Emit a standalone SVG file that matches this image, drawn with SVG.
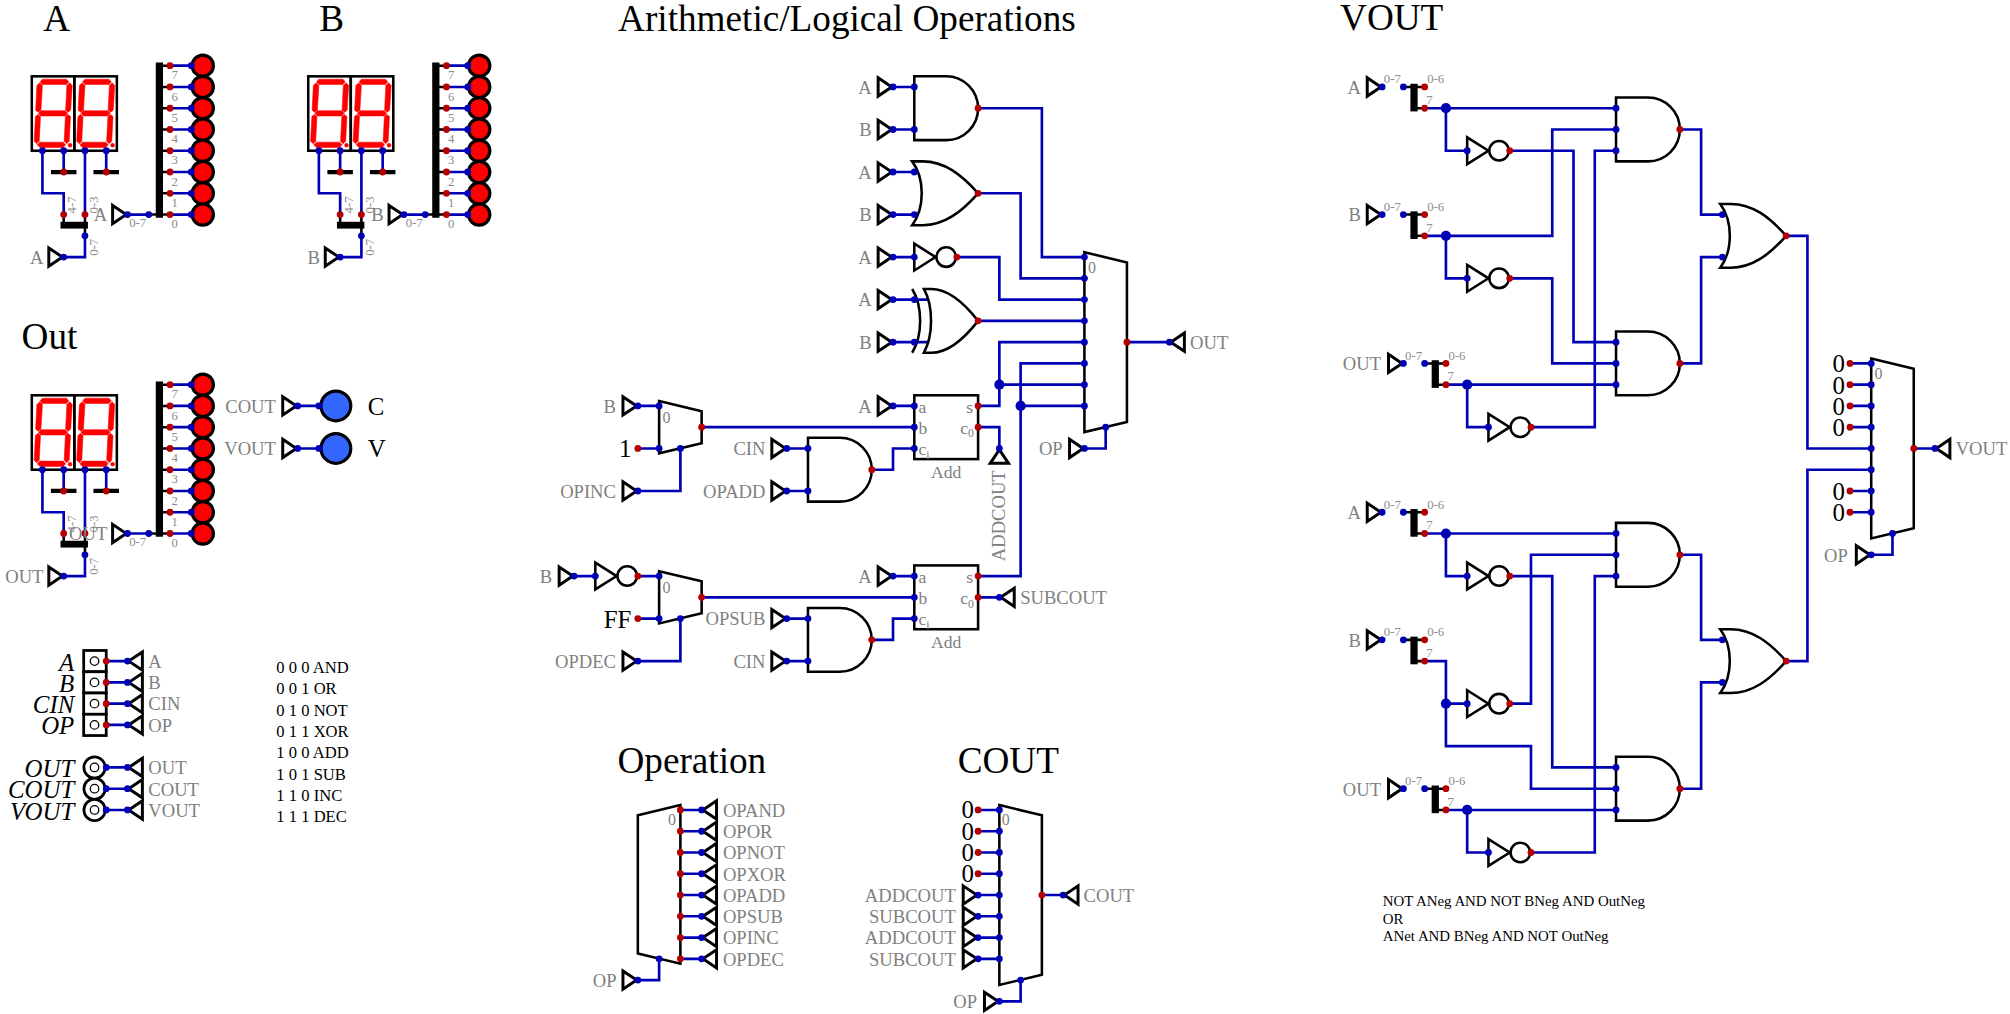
<svg xmlns="http://www.w3.org/2000/svg" xmlns:xlink="http://www.w3.org/1999/xlink" width="2010" height="1014" viewBox="0 0 2010 1014">
<style>
text{font-family:"Liberation Serif","Times New Roman",serif}
.w{fill:none;stroke:#0000b4;stroke-width:1.25}
.o{fill:none;stroke:#000;stroke-width:1.2}
.tr{fill:none;stroke:#000;stroke-width:1.4}
.bar{fill:#000}
.stub{stroke:#000;stroke-width:1.2;fill:none}
.gnd{stroke:#000;stroke-width:2;fill:none}
.led{fill:#ff0000;stroke:#000;stroke-width:1.5}
.ledb{fill:#3366ff;stroke:#000;stroke-width:1.5}
.seg{fill:#ff0000;stroke:#ff0000;stroke-width:.25}
.pin{fill:#fff;stroke:#000;stroke-width:1.3}
.pi{fill:#fff;stroke:#000;stroke-width:.6}
.l{font-size:8.75px;fill:#808080}
.a{font-size:8.3px;fill:#808080}
.e{text-anchor:end}
.m{text-anchor:middle}
.s{font-size:6px;fill:#8c8c8c}
.d{font-size:6px;fill:#8c8c8c;text-anchor:middle}
.z{font-size:7.5px;fill:#808080}
.k{font-size:11.7px;fill:#000}
.i{font-size:11.7px;fill:#000;font-style:italic;text-anchor:end}
.h{font-size:17.5px;fill:#000}
.n{font-size:7.8px;fill:#000}
.f{font-size:7px;fill:#000}
</style>
<defs>
<circle id="b" r="1.6" fill="#0000b4"/>
<circle id="r" r="1.6" fill="#b40000"/>
<g id="inR"><polygon class="tr" points="-7,-4.3 -.6,0 -7,4.3"/><use xlink:href="#b"/></g>
<g id="inL"><polygon class="tr" points="7,-4.3 .6,0 7,4.3"/><use xlink:href="#b"/></g>
<g id="not"><polygon class="o" points="0,-6.3 10,0 0,6.3"/><circle class="o" cx="15" r="4.6"/><use xlink:href="#b"/><use xlink:href="#r" x="20"/></g>
<path id="andS" class="o" d="M0,-15H15A15,15 0 0 1 15,15H0Z"/>
<path id="orS" class="o" d="M-1,-15H4C14,-15 22,-9 30,0C22,9 14,15 4,15H-1C5,7 5,-7 -1,-15Z"/>
<g id="seven">
<rect class="o" width="20" height="35"/>
<polygon class="seg" points="3.9,2.6 5,1.35 16.3,1.35 17.4,2.6 16.3,3.85 5,3.85"/>
<polygon class="seg" points="3.1,17.4 4.3,16.15 15.7,16.15 16.9,17.4 15.7,18.65 4.3,18.65"/>
<polygon class="seg" points="2.6,32.2 3.8,30.95 14.8,30.95 15.9,32.2 14.8,33.45 3.8,33.45"/>
<polygon class="seg" points="3.7,3 5,4.3 4.3,15.9 3,16.9 1.8,15.9 2.4,4.3"/>
<polygon class="seg" points="17.8,3 19,4.3 18.3,15.9 17.1,16.9 15.9,15.9 16.5,4.3"/>
<polygon class="seg" points="2.9,17.9 4.1,18.9 3.5,30.5 2.3,31.7 1.1,30.5 1.7,18.9"/>
<polygon class="seg" points="17,17.9 18.2,18.9 17.6,30.5 16.4,31.7 15.2,30.5 15.8,18.9"/>
<circle class="seg" cx="18" cy="32.4" r=".9"/>
</g>
<g id="bankS">
<use xlink:href="#seven" x="15" y="35"/><use xlink:href="#seven" x="35" y="35"/>
<path class="gnd" d="M24,80H36M44,80H56"/>
<path class="stub" d="M30,100V105M40,100V110M70,100H75M75,30H80M75,40H80M75,50H80M75,60H80M75,70H80M75,80H80M75,90H80M75,100H80"/>
<rect class="bar" x="28.5" y="103.4" width="12.9" height="3.2"/>
<rect class="bar" x="73.3" y="28.5" width="3.4" height="73"/>
<use xlink:href="#b" x="20" y="70"/><use xlink:href="#b" x="30" y="70"/><use xlink:href="#b" x="40" y="70"/><use xlink:href="#b" x="50" y="70"/>
<use xlink:href="#r" x="30" y="80"/><use xlink:href="#r" x="50" y="80"/><use xlink:href="#r" x="30" y="100"/><use xlink:href="#r" x="40" y="100"/><use xlink:href="#b" x="40" y="110"/>
<use xlink:href="#inR" x="30" y="120"/><use xlink:href="#inR" x="60" y="100"/><use xlink:href="#b" x="70" y="100"/>
<circle class="led" cx="95.4" cy="30" r="5"/><circle class="led" cx="95.4" cy="40" r="5"/><circle class="led" cx="95.4" cy="50" r="5"/><circle class="led" cx="95.4" cy="60" r="5"/><circle class="led" cx="95.4" cy="70" r="5"/><circle class="led" cx="95.4" cy="80" r="5"/><circle class="led" cx="95.4" cy="90" r="5"/><circle class="led" cx="95.4" cy="100" r="5"/>
<use xlink:href="#r" x="80" y="30"/><use xlink:href="#r" x="80" y="40"/><use xlink:href="#r" x="80" y="50"/><use xlink:href="#r" x="80" y="60"/><use xlink:href="#r" x="80" y="70"/><use xlink:href="#r" x="80" y="80"/><use xlink:href="#r" x="80" y="90"/><use xlink:href="#r" x="80" y="100"/>
<use xlink:href="#b" x="90" y="30"/><use xlink:href="#b" x="90" y="40"/><use xlink:href="#b" x="90" y="50"/><use xlink:href="#b" x="90" y="60"/><use xlink:href="#b" x="90" y="70"/><use xlink:href="#b" x="90" y="80"/><use xlink:href="#b" x="90" y="90"/><use xlink:href="#b" x="90" y="100"/>
</g>
<path id="bankW" class="w" d="M20,70V90H30V100M40,70V100M40,110V120H30M30,70V80M50,70V80M60,100H70M80,30H90M80,40H90M80,50H90M80,60H90M80,70H90M80,80H90M80,90H90M80,100H90"/>
<g id="splitS"><path class="stub" d="M0,0H10M5,10H10"/><rect class="bar" x="3.3" y="-1.5" width="3.4" height="13"/><use xlink:href="#b"/><use xlink:href="#r" x="10"/><use xlink:href="#r" x="10" y="10"/><use xlink:href="#inR" x="-10"/></g>
</defs>
<g transform="translate(-.1,1.9) scale(2.1265)">
<g id="titles">
<text class="h" x="20.4" y="13.5">A</text>
<text class="h" x="150.2" y="13.5">B</text>
<text class="h" x="10.2" y="163.4">Out</text>
<text class="h" x="290.7" y="13.5">Arithmetic/Logical Operations</text>
<text class="h" x="630.2" y="13.3">VOUT</text>
<text class="h" x="290.4" y="362.8">Operation</text>
<text class="h" x="450.4" y="362.8">COUT</text>
</g>
<g id="connectors">
<use xlink:href="#bankW"/><use xlink:href="#bankW" x="130"/><use xlink:href="#bankW" y="150"/>
<path class="w" d="M140,190H150M140,210H150"/>
<path class="w" d="M50,310H60M50,320H60M50,330H60M50,340H60M50,360H60M50,370H60M50,380H60"/>
<path class="w" d="M420,40H430M420,60H430M460,50H490V120H510M420,80H430M420,100H430M460,90H480V130H510M420,120H430M450,120H470V140H510M420,140H437M420,160H437M460,150H510M460,190H470V160H510M470,180H510M460,200H470V210M460,270H480V170H510M480,190H510M460,280H470M530,160H550M520,200V210H510M420,190H430M330,200H430M410,220H420V210H430M300,190H310M300,210H310M320,210V230H300M370,210H380M370,230H380M270,270H280M300,270H310M300,290H310M320,290V310H300M330,280H430M370,290H380M370,310H380M410,300H420V290H430M420,270H430"/>
<path class="w" d="M320,380H330M320,390H330M320,400H330M320,410H330M320,420H330M320,430H330M320,440H330M320,450H330M310,450V460H300M460,380H470M460,390H470M460,400H470M460,410H470M460,420H470M460,430H470M460,440H470M460,450H470M490,420H500M480,460V470H470"/>
<path class="w" d="M670,50H760M680,50V70H690M710,70H740V160H760M760,60H730V110H670M680,110V130H690M710,130H730V170H760M680,180H760M690,180V200H700M720,200H750V70H760M790,60H800V100H810M790,170H800V120H810M840,110H850V210H880M840,310H850V220H880M870,170H880M870,180H880M870,190H880M870,200H880M870,230H880M870,240H880M900,210H910M890,250V260H880"/>
<path class="w" d="M670,250H760M680,250V270H690M710,270H730V360H760M760,260H720V330H710M670,310H680V350H720V370H760M680,330H690M680,380H760M690,380V400H700M720,400H750V270H760M790,260H800V300H810M790,370H800V320H810"/>
<g fill="#0000b4"><circle cx="470" cy="180" r="2.4"/><circle cx="480" cy="190" r="2.4"/><circle cx="680" cy="50" r="2.4"/><circle cx="680" cy="110" r="2.4"/><circle cx="690" cy="180" r="2.4"/><circle cx="680" cy="250" r="2.4"/><circle cx="680" cy="330" r="2.4"/><circle cx="690" cy="380" r="2.4"/></g>
</g>
<g id="node-display-a"><use xlink:href="#bankS"/>
<text class="l e" x="20.5" y="123.2">A</text><text class="l e" x="50.5" y="103.2">A</text>
<text class="s m" transform="translate(36,95.5) rotate(-90)">4-7</text><text class="s m" transform="translate(46,95.5) rotate(-90)">0-3</text><text class="s m" transform="translate(46,115.4) rotate(-90)">0-7</text><text class="s m" x="64.8" y="105.7">0-7</text>
<text class="d" x="82.2" y="36.4">7</text><text class="d" x="82.2" y="46.4">6</text><text class="d" x="82.2" y="56.4">5</text><text class="d" x="82.2" y="66.4">4</text><text class="d" x="82.2" y="76.4">3</text><text class="d" x="82.2" y="86.4">2</text><text class="d" x="82.2" y="96.4">1</text><text class="d" x="82.2" y="106.4">0</text>
</g>
<g id="node-display-b" transform="translate(130,0)"><use xlink:href="#bankS"/>
<text class="l e" x="20.5" y="123.2">B</text><text class="l e" x="50.5" y="103.2">B</text>
<text class="s m" transform="translate(36,95.5) rotate(-90)">4-7</text><text class="s m" transform="translate(46,95.5) rotate(-90)">0-3</text><text class="s m" transform="translate(46,115.4) rotate(-90)">0-7</text><text class="s m" x="64.8" y="105.7">0-7</text>
<text class="d" x="82.2" y="36.4">7</text><text class="d" x="82.2" y="46.4">6</text><text class="d" x="82.2" y="56.4">5</text><text class="d" x="82.2" y="66.4">4</text><text class="d" x="82.2" y="76.4">3</text><text class="d" x="82.2" y="86.4">2</text><text class="d" x="82.2" y="96.4">1</text><text class="d" x="82.2" y="106.4">0</text>
</g>
<g id="node-display-out" transform="translate(0,150)"><use xlink:href="#bankS"/>
<text class="l e" x="20.5" y="123.2">OUT</text><text class="l e" x="50.5" y="103.2">OUT</text>
<text class="s m" transform="translate(36,95.5) rotate(-90)">4-7</text><text class="s m" transform="translate(46,95.5) rotate(-90)">0-3</text><text class="s m" transform="translate(46,115.4) rotate(-90)">0-7</text><text class="s m" x="64.8" y="105.7">0-7</text>
<text class="d" x="82.2" y="36.4">7</text><text class="d" x="82.2" y="46.4">6</text><text class="d" x="82.2" y="56.4">5</text><text class="d" x="82.2" y="66.4">4</text><text class="d" x="82.2" y="76.4">3</text><text class="d" x="82.2" y="86.4">2</text><text class="d" x="82.2" y="96.4">1</text><text class="d" x="82.2" y="106.4">0</text>
</g>
<g id="node-led-c"><circle class="ledb" cx="158" cy="190" r="7"/><use xlink:href="#inR" x="140" y="190"/><use xlink:href="#b" x="150" y="190"/><text class="l e" x="129.8" y="193.2">COUT</text><text class="k" x="173" y="194.3">C</text></g>
<g id="node-led-v"><circle class="ledb" cx="158" cy="210" r="7"/><use xlink:href="#inR" x="140" y="210"/><use xlink:href="#b" x="150" y="210"/><text class="l e" x="129.8" y="213.2">VOUT</text><text class="k" x="173" y="214.2">V</text></g>
<g id="node-pins">
<rect class="pin" x="39.4" y="305" width="10.6" height="10"/><rect class="pin" x="39.4" y="315" width="10.6" height="10"/><rect class="pin" x="39.4" y="325" width="10.6" height="10"/><rect class="pin" x="39.4" y="335" width="10.6" height="10"/>
<circle class="pi" cx="44.5" cy="310" r="2"/><circle class="pi" cx="44.5" cy="320" r="2"/><circle class="pi" cx="44.5" cy="330" r="2"/><circle class="pi" cx="44.5" cy="340" r="2"/>
<circle class="pin" cx="44.5" cy="360" r="5"/><circle class="pin" cx="44.5" cy="370" r="5"/><circle class="pin" cx="44.5" cy="380" r="5"/>
<circle class="pi" cx="44.5" cy="360" r="2"/><circle class="pi" cx="44.5" cy="370" r="2"/><circle class="pi" cx="44.5" cy="380" r="2"/>
<use xlink:href="#r" x="50" y="310"/><use xlink:href="#r" x="50" y="320"/><use xlink:href="#r" x="50" y="330"/><use xlink:href="#r" x="50" y="340"/>
<use xlink:href="#b" x="50" y="360"/><use xlink:href="#b" x="50" y="370"/><use xlink:href="#b" x="50" y="380"/>
<use xlink:href="#inL" x="60" y="310"/><use xlink:href="#inL" x="60" y="320"/><use xlink:href="#inL" x="60" y="330"/><use xlink:href="#inL" x="60" y="340"/><use xlink:href="#inL" x="60" y="360"/><use xlink:href="#inL" x="60" y="370"/><use xlink:href="#inL" x="60" y="380"/>
<text class="i" x="35" y="314.5">A</text><text class="i" x="35" y="324.5">B</text><text class="i" x="35" y="334.5">CIN</text><text class="i" x="35" y="344.5">OP</text><text class="i" x="35" y="364.5">OUT</text><text class="i" x="35" y="374.5">COUT</text><text class="i" x="35" y="384.5">VOUT</text>
<text class="l" x="69.8" y="313.2">A</text><text class="l" x="69.8" y="323.2">B</text><text class="l" x="69.8" y="333.2">CIN</text><text class="l" x="69.8" y="343.2">OP</text><text class="l" x="69.8" y="363.2">OUT</text><text class="l" x="69.8" y="373.2">COUT</text><text class="l" x="69.8" y="383.2">VOUT</text>
</g>
<g id="node-truth-table">
<text class="n" x="130" y="315.7">0 0 0 AND</text><text class="n" x="130" y="325.7">0 0 1 OR</text><text class="n" x="130" y="335.7">0 1 0 NOT</text><text class="n" x="130" y="345.7">0 1 1 XOR</text><text class="n" x="130" y="355.7">1 0 0 ADD</text><text class="n" x="130" y="365.7">1 0 1 SUB</text><text class="n" x="130" y="375.7">1 1 0 INC</text><text class="n" x="130" y="385.7">1 1 1 DEC</text>
</g>
<g id="node-and-ab"><use xlink:href="#andS" x="430" y="50"/><use xlink:href="#inR" x="420" y="40"/><use xlink:href="#inR" x="420" y="60"/><use xlink:href="#b" x="430" y="40"/><use xlink:href="#b" x="430" y="60"/><use xlink:href="#r" x="460" y="50"/><text class="l e" x="410" y="43.2">A</text><text class="l e" x="410" y="63.2">B</text></g>
<g id="node-or-ab"><use xlink:href="#orS" x="430" y="90"/><use xlink:href="#inR" x="420" y="80"/><use xlink:href="#inR" x="420" y="100"/><use xlink:href="#b" x="430" y="80"/><use xlink:href="#b" x="430" y="100"/><use xlink:href="#r" x="460" y="90"/><text class="l e" x="410" y="83.2">A</text><text class="l e" x="410" y="103.2">B</text></g>
<g id="node-not-a"><use xlink:href="#not" x="430" y="120"/><use xlink:href="#inR" x="420" y="120"/><text class="l e" x="410" y="123.2">A</text></g>
<g id="node-xor-ab"><path class="o" d="M434.5,135H438C446,135 453,141 460,150C453,159 446,165 438,165H434.5C439,157 439,143 434.5,135ZM429,135C434,143 434,157 429,165"/><use xlink:href="#inR" x="420" y="140"/><use xlink:href="#inR" x="420" y="160"/><use xlink:href="#b" x="430" y="140"/><use xlink:href="#b" x="430" y="160"/><use xlink:href="#r" x="460" y="150"/><text class="l e" x="410" y="143.2">A</text><text class="l e" x="410" y="163.2">B</text></g>
<g id="node-mux-main"><polygon class="o" points="510,117.7 530,122.5 530,197.5 510,202.3"/><use xlink:href="#b" x="510" y="120"/><use xlink:href="#b" x="510" y="130"/><use xlink:href="#b" x="510" y="140"/><use xlink:href="#b" x="510" y="150"/><use xlink:href="#b" x="510" y="160"/><use xlink:href="#b" x="510" y="170"/><use xlink:href="#b" x="510" y="180"/><use xlink:href="#b" x="510" y="190"/><use xlink:href="#r" x="530" y="160"/><use xlink:href="#inL" x="550" y="160"/><use xlink:href="#b" x="520" y="200"/><use xlink:href="#inR" x="510" y="210"/><text class="z" x="511.7" y="127.5">0</text><text class="l" x="559.7" y="163.2">OUT</text><text class="l e" x="499.8" y="213.2">OP</text></g>
<g id="node-adder-1"><rect class="o" x="430" y="185" width="30" height="30"/><use xlink:href="#b" x="430" y="190"/><use xlink:href="#b" x="430" y="200"/><use xlink:href="#b" x="430" y="210"/><use xlink:href="#r" x="460" y="190"/><use xlink:href="#r" x="460" y="200"/><use xlink:href="#inR" x="420" y="190"/><text class="l e" x="410" y="193.2">A</text>
<text class="a" x="432" y="193.2">a</text><text class="a" x="432" y="203">b</text><text class="a" x="432" y="213">c<tspan font-size="5.5" dy="1.8">i</tspan></text><text class="a e" x="457.7" y="193.2">s</text><text class="a e" x="458" y="203">c<tspan font-size="5.5" dy="1.8">0</tspan></text><text class="a m" x="445" y="224">Add</text></g>
<g id="node-adder-2"><rect class="o" x="430" y="265" width="30" height="30"/><use xlink:href="#b" x="430" y="270"/><use xlink:href="#b" x="430" y="280"/><use xlink:href="#b" x="430" y="290"/><use xlink:href="#r" x="460" y="270"/><use xlink:href="#r" x="460" y="280"/><use xlink:href="#inR" x="420" y="270"/><text class="l e" x="410" y="273.2">A</text>
<text class="a" x="432" y="273.2">a</text><text class="a" x="432" y="283">b</text><text class="a" x="432" y="293">c<tspan font-size="5.5" dy="1.8">i</tspan></text><text class="a e" x="457.7" y="273.2">s</text><text class="a e" x="458" y="283">c<tspan font-size="5.5" dy="1.8">0</tspan></text><text class="a m" x="445" y="304">Add</text></g>
<g id="node-addcout"><polygon class="tr" points="465.7,217 470,210.6 474.3,217"/><use xlink:href="#b" x="470" y="210"/><text class="l" transform="translate(472.6,263) rotate(-90)">ADDCOUT</text></g>
<g id="node-subcout"><use xlink:href="#inL" x="470" y="280"/><text class="l" x="479.8" y="283.2">SUBCOUT</text></g>
<g id="node-mux-inc"><polygon class="o" points="310,187.7 330,192.5 330,207.5 310,212.3"/><use xlink:href="#inR" x="300" y="190"/><use xlink:href="#b" x="310" y="190"/><use xlink:href="#b" x="310" y="210"/><use xlink:href="#r" x="300" y="210"/><use xlink:href="#b" x="320" y="210"/><use xlink:href="#r" x="330" y="200"/><use xlink:href="#inR" x="300" y="230"/><text class="z m" x="313.5" y="197.9">0</text><text class="l e" x="289.7" y="193.2">B</text><text class="k e" x="297" y="214.2">1</text><text class="l e" x="289.7" y="233.2">OPINC</text></g>
<g id="node-and-cin"><use xlink:href="#andS" x="380" y="220"/><use xlink:href="#inR" x="370" y="210"/><use xlink:href="#inR" x="370" y="230"/><use xlink:href="#b" x="380" y="210"/><use xlink:href="#b" x="380" y="230"/><use xlink:href="#r" x="410" y="220"/><text class="l e" x="360" y="213.2">CIN</text><text class="l e" x="360" y="233.2">OPADD</text></g>
<g id="node-not-b"><use xlink:href="#not" x="280" y="270"/><use xlink:href="#inR" x="270" y="270"/><text class="l e" x="259.7" y="273.2">B</text></g>
<g id="node-mux-dec"><polygon class="o" points="310,267.7 330,272.5 330,287.5 310,292.3"/><use xlink:href="#b" x="310" y="270"/><use xlink:href="#b" x="310" y="290"/><use xlink:href="#r" x="300" y="290"/><use xlink:href="#b" x="320" y="290"/><use xlink:href="#r" x="330" y="280"/><use xlink:href="#inR" x="300" y="310"/><text class="z m" x="313.5" y="277.9">0</text><text class="k e" x="297" y="294.2">FF</text><text class="l e" x="289.7" y="313.2">OPDEC</text></g>
<g id="node-and-sub"><use xlink:href="#andS" x="380" y="300"/><use xlink:href="#inR" x="370" y="290"/><use xlink:href="#inR" x="370" y="310"/><use xlink:href="#b" x="380" y="290"/><use xlink:href="#b" x="380" y="310"/><use xlink:href="#r" x="410" y="300"/><text class="l e" x="360" y="293.2">OPSUB</text><text class="l e" x="360" y="313.2">CIN</text></g>
<g id="node-mux-operation"><polygon class="o" points="320,377.7 300,382.5 300,447.5 320,452.3"/><use xlink:href="#r" x="320" y="380"/><use xlink:href="#r" x="320" y="390"/><use xlink:href="#r" x="320" y="400"/><use xlink:href="#r" x="320" y="410"/><use xlink:href="#r" x="320" y="420"/><use xlink:href="#r" x="320" y="430"/><use xlink:href="#r" x="320" y="440"/><use xlink:href="#r" x="320" y="450"/>
<use xlink:href="#inL" x="330" y="380"/><use xlink:href="#inL" x="330" y="390"/><use xlink:href="#inL" x="330" y="400"/><use xlink:href="#inL" x="330" y="410"/><use xlink:href="#inL" x="330" y="420"/><use xlink:href="#inL" x="330" y="430"/><use xlink:href="#inL" x="330" y="440"/><use xlink:href="#inL" x="330" y="450"/>
<use xlink:href="#b" x="310" y="450"/><use xlink:href="#inR" x="300" y="460"/><text class="z m" x="316" y="387">0</text><text class="l e" x="290" y="463.2">OP</text>
<text class="l" x="340" y="383.2">OPAND</text><text class="l" x="340" y="393.2">OPOR</text><text class="l" x="340" y="403.2">OPNOT</text><text class="l" x="340" y="413.2">OPXOR</text><text class="l" x="340" y="423.2">OPADD</text><text class="l" x="340" y="433.2">OPSUB</text><text class="l" x="340" y="443.2">OPINC</text><text class="l" x="340" y="453.2">OPDEC</text></g>
<g id="node-mux-cout"><polygon class="o" points="470,377.7 490,382.5 490,457.5 470,462.3"/><use xlink:href="#b" x="470" y="380"/><use xlink:href="#b" x="470" y="390"/><use xlink:href="#b" x="470" y="400"/><use xlink:href="#b" x="470" y="410"/><use xlink:href="#b" x="470" y="420"/><use xlink:href="#b" x="470" y="430"/><use xlink:href="#b" x="470" y="440"/><use xlink:href="#b" x="470" y="450"/>
<use xlink:href="#r" x="460" y="380"/><use xlink:href="#r" x="460" y="390"/><use xlink:href="#r" x="460" y="400"/><use xlink:href="#r" x="460" y="410"/><use xlink:href="#inR" x="460" y="420"/><use xlink:href="#inR" x="460" y="430"/><use xlink:href="#inR" x="460" y="440"/><use xlink:href="#inR" x="460" y="450"/>
<use xlink:href="#r" x="490" y="420"/><use xlink:href="#inL" x="500" y="420"/><use xlink:href="#b" x="480" y="460"/><use xlink:href="#inR" x="470" y="470"/>
<text class="z m" x="473" y="387">0</text><text class="k e" x="458" y="384">0</text><text class="k e" x="458" y="394">0</text><text class="k e" x="458" y="404">0</text><text class="k e" x="458" y="414">0</text>
<text class="l e" x="449.5" y="423.2">ADDCOUT</text><text class="l e" x="449.5" y="433.2">SUBCOUT</text><text class="l e" x="449.5" y="443.2">ADDCOUT</text><text class="l e" x="449.5" y="453.2">SUBCOUT</text><text class="l" x="509.6" y="423.2">COUT</text><text class="l e" x="459.5" y="473.2">OP</text></g>
<g id="node-vout-a1"><use xlink:href="#splitS" x="660" y="40"/><text class="l e" x="640" y="43.2">A</text><text class="s m" x="654.8" y="38.3">0-7</text><text class="s" x="671.2" y="38.3">0-6</text><text class="s m" x="672.3" y="48">7</text></g>
<g id="node-vout-b1"><use xlink:href="#splitS" x="660" y="100"/><text class="l e" x="640" y="103.2">B</text><text class="s m" x="654.8" y="98.3">0-7</text><text class="s" x="671.2" y="98.3">0-6</text><text class="s m" x="672.3" y="108">7</text></g>
<g id="node-vout-o1"><use xlink:href="#splitS" x="670" y="170"/><text class="l e" x="649.5" y="173.2">OUT</text><text class="s m" x="664.8" y="168.3">0-7</text><text class="s" x="681.2" y="168.3">0-6</text><text class="s m" x="682.3" y="178">7</text></g>
<g id="node-vout-a2"><use xlink:href="#splitS" x="660" y="240"/><text class="l e" x="640" y="243.2">A</text><text class="s m" x="654.8" y="238.3">0-7</text><text class="s" x="671.2" y="238.3">0-6</text><text class="s m" x="672.3" y="248">7</text></g>
<g id="node-vout-b2"><use xlink:href="#splitS" x="660" y="300"/><text class="l e" x="640" y="303.2">B</text><text class="s m" x="654.8" y="298.3">0-7</text><text class="s" x="671.2" y="298.3">0-6</text><text class="s m" x="672.3" y="308">7</text></g>
<g id="node-vout-o2"><use xlink:href="#splitS" x="670" y="370"/><text class="l e" x="649.5" y="373.2">OUT</text><text class="s m" x="664.8" y="368.3">0-7</text><text class="s" x="681.2" y="368.3">0-6</text><text class="s m" x="682.3" y="378">7</text></g>
<g id="node-vout-nots"><use xlink:href="#not" x="690" y="70"/><use xlink:href="#not" x="690" y="130"/><use xlink:href="#not" x="700" y="200"/><use xlink:href="#not" x="690" y="270"/><use xlink:href="#not" x="690" y="330"/><use xlink:href="#not" x="700" y="400"/></g>
<g id="node-vout-and1"><use xlink:href="#andS" x="760" y="60"/><use xlink:href="#b" x="760" y="50"/><use xlink:href="#b" x="760" y="60"/><use xlink:href="#b" x="760" y="70"/><use xlink:href="#r" x="790" y="60"/></g>
<g id="node-vout-and2"><use xlink:href="#andS" x="760" y="170"/><use xlink:href="#b" x="760" y="160"/><use xlink:href="#b" x="760" y="170"/><use xlink:href="#b" x="760" y="180"/><use xlink:href="#r" x="790" y="170"/></g>
<g id="node-vout-and3"><use xlink:href="#andS" x="760" y="260"/><use xlink:href="#b" x="760" y="250"/><use xlink:href="#b" x="760" y="260"/><use xlink:href="#b" x="760" y="270"/><use xlink:href="#r" x="790" y="260"/></g>
<g id="node-vout-and4"><use xlink:href="#andS" x="760" y="370"/><use xlink:href="#b" x="760" y="360"/><use xlink:href="#b" x="760" y="370"/><use xlink:href="#b" x="760" y="380"/><use xlink:href="#r" x="790" y="370"/></g>
<g id="node-vout-or1"><use xlink:href="#orS" x="810" y="110"/><use xlink:href="#b" x="810" y="100"/><use xlink:href="#b" x="810" y="120"/><use xlink:href="#r" x="840" y="110"/></g>
<g id="node-vout-or2"><use xlink:href="#orS" x="810" y="310"/><use xlink:href="#b" x="810" y="300"/><use xlink:href="#b" x="810" y="320"/><use xlink:href="#r" x="840" y="310"/></g>
<g id="node-mux-vout"><polygon class="o" points="880,167.7 900,172.5 900,247.5 880,252.3"/><use xlink:href="#b" x="880" y="170"/><use xlink:href="#b" x="880" y="180"/><use xlink:href="#b" x="880" y="190"/><use xlink:href="#b" x="880" y="200"/><use xlink:href="#b" x="880" y="210"/><use xlink:href="#b" x="880" y="220"/><use xlink:href="#b" x="880" y="230"/><use xlink:href="#b" x="880" y="240"/>
<use xlink:href="#r" x="870" y="170"/><use xlink:href="#r" x="870" y="180"/><use xlink:href="#r" x="870" y="190"/><use xlink:href="#r" x="870" y="200"/><use xlink:href="#r" x="870" y="230"/><use xlink:href="#r" x="870" y="240"/><use xlink:href="#r" x="900" y="210"/><use xlink:href="#inL" x="910" y="210"/><use xlink:href="#b" x="890" y="250"/><use xlink:href="#inR" x="880" y="260"/>
<text class="z" x="881.5" y="177.5">0</text><text class="k e" x="867.7" y="174.2">0</text><text class="k e" x="867.7" y="184.2">0</text><text class="k e" x="867.7" y="194.2">0</text><text class="k e" x="867.7" y="204.2">0</text><text class="k e" x="867.7" y="234.2">0</text><text class="k e" x="867.7" y="244.2">0</text>
<text class="l" x="919.7" y="213.2">VOUT</text><text class="l e" x="869" y="263.2">OP</text></g>
<g id="node-note"><text class="f" x="650.3" y="425.2">NOT ANeg AND NOT BNeg AND OutNeg</text><text class="f" x="650.3" y="433.5">OR</text><text class="f" x="650.3" y="441.8">ANet AND BNeg AND NOT OutNeg</text></g>
</g>
</svg>
